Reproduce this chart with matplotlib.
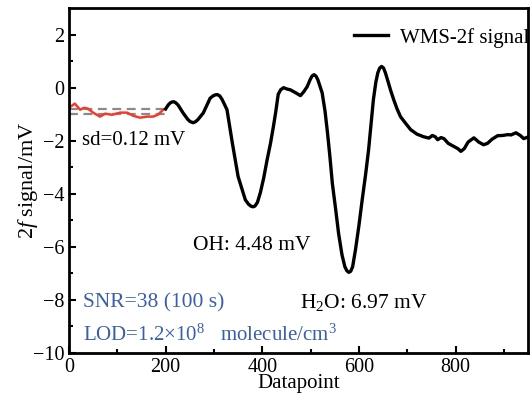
import numpy as np
from matplotlib import pyplot as plt

plt.rcParams['font.family'] = 'Liberation Serif'
plt.rcParams['mathtext.fontset'] = 'custom'
plt.rcParams['mathtext.rm'] = 'Liberation Serif'
plt.rcParams['mathtext.it'] = 'Liberation Serif:italic'

# noise segment (red), datapoints 0-200
noise_x = [0, 6, 12, 23, 31, 39, 50, 64, 75, 89, 106, 120, 133, 147, 162, 174, 184, 195, 200]
noise_y = [-0.75, -0.68, -0.6, -0.83, -0.76, -0.79, -0.94, -1.09, -0.98, -1.02, -0.94, -0.94,
           -1.06, -1.13, -1.09, -1.09, -1.02, -0.83, -0.8]

# WMS-2f signal (black)
sig_x = [200, 205, 209, 213, 217, 221, 226, 236, 246, 251, 257, 262, 267, 278, 292, 298, 303,
         307, 312, 317, 327, 338, 350, 365, 372, 377, 381, 385, 390, 396, 403, 410, 417, 423,
         428, 433, 438, 444, 451, 458, 468, 479, 486, 493, 499, 503, 507, 511, 515, 519, 524,
         530, 535, 540, 545, 552, 558, 565, 571, 575, 579, 583, 587, 593, 600, 607, 614, 620,
         625, 630, 635, 639, 643, 647, 651, 655, 660, 666, 672, 679, 686, 697, 707, 720, 734,
         745, 752, 758, 763, 770, 776, 785, 795, 805, 811, 818, 826, 838, 848, 858, 866, 875,
         887, 898, 908, 915, 925, 934, 941, 950]
sig_y = [-0.8, -0.66, -0.58, -0.54, -0.53, -0.57, -0.66, -0.95, -1.2, -1.28, -1.32, -1.28,
         -1.2, -0.95, -0.4, -0.31, -0.27, -0.26, -0.31, -0.45, -0.83, -2.08, -3.35, -4.23,
         -4.4, -4.47, -4.49, -4.46, -4.32, -3.96, -3.4, -2.72, -2.1, -1.47, -0.9, -0.25,
         -0.08, 0.0, -0.05, -0.08, -0.18, -0.3, -0.15, 0.04, 0.3, 0.44, 0.49, 0.44, 0.3,
         0.08, -0.2, -0.9, -1.7, -2.6, -3.6, -4.6, -5.5, -6.3, -6.75, -6.9, -6.96, -6.92,
         -6.75, -6.1, -5.2, -4.2, -3.25, -2.35, -1.4, -0.45, 0.2, 0.55, 0.74, 0.8, 0.74,
         0.55, 0.25, -0.12, -0.45, -0.8, -1.09, -1.35, -1.58, -1.75, -1.85, -1.9, -1.8,
         -1.85, -1.96, -1.88, -1.92, -2.1, -2.2, -2.3, -2.4, -2.3, -2.05, -1.89, -2.05,
         -2.15, -2.1, -1.95, -1.81, -1.8, -1.77, -1.78, -1.7, -1.8, -1.92, -1.86]

sd_lines = [-0.8, -1.0]
blue = '#3a5eab'

fig = plt.figure(figsize=(5.32, 4.04), dpi=100)
ax = fig.add_axes([0.1297, 0.1262, 0.8628, 0.8538])

for yv in sd_lines:
    ax.plot([0, 205], [yv, yv], color='#8a8a8a', linestyle='--', linewidth=1.6, dashes=(4, 2.5))
ax.plot(noise_x, noise_y, color='#f03c2a', linewidth=1.8)
ax.plot(sig_x, sig_y, color='black', linewidth=2.4, label='WMS-2f signal')

ax.set_xlim(0, 950)
ax.set_ylim(-10, 3)
ax.set_xticks([0, 200, 400, 600, 800])
ax.set_xticks(np.arange(100, 950, 200), minor=True)
ax.set_yticks([-10, -8, -6, -4, -2, 0, 2])
ax.set_yticks(np.arange(-9, 3, 2), minor=True)
ax.set_yticklabels(['\u221210', '\u22128', '\u22126', '\u22124', '\u22122', '0', '2'])
ax.tick_params(direction='in', labelsize=14.5, width=1.5, length=5, top=False, right=False)
ax.tick_params(which='minor', direction='in', width=1.5, length=3)
for s in ax.spines.values():
    s.set_linewidth(2)

ax.set_xlabel('Datapoint', fontsize=15, labelpad=-2)
ax.set_ylabel('2$f$ signal/mV', fontsize=16, labelpad=-5)

ax.text(27, -1.98, 'sd=0.12 mV', fontsize=15, va='center')
ax.text(257, -5.94, 'OH: 4.48 mV', fontsize=15.5, va='center')
ax.text(479, -8.1, 'H$_2$O: 6.97 mV', fontsize=15.5, va='center')
ax.text(29, -8.1, 'SNR=38 (100 s)', fontsize=15.5, va='center', color=blue)
ax.text(29, -9.34, 'LOD=1.2\u00d710$^8$   molecule/cm$^3$', fontsize=15, va='center', color=blue)

ax.legend(loc='upper right', frameon=False, fontsize=15, handlelength=1.6, handletextpad=0.6,
          borderaxespad=0.3, bbox_to_anchor=(1.035, 0.985))

fig.savefig('out.png', dpi=100)
